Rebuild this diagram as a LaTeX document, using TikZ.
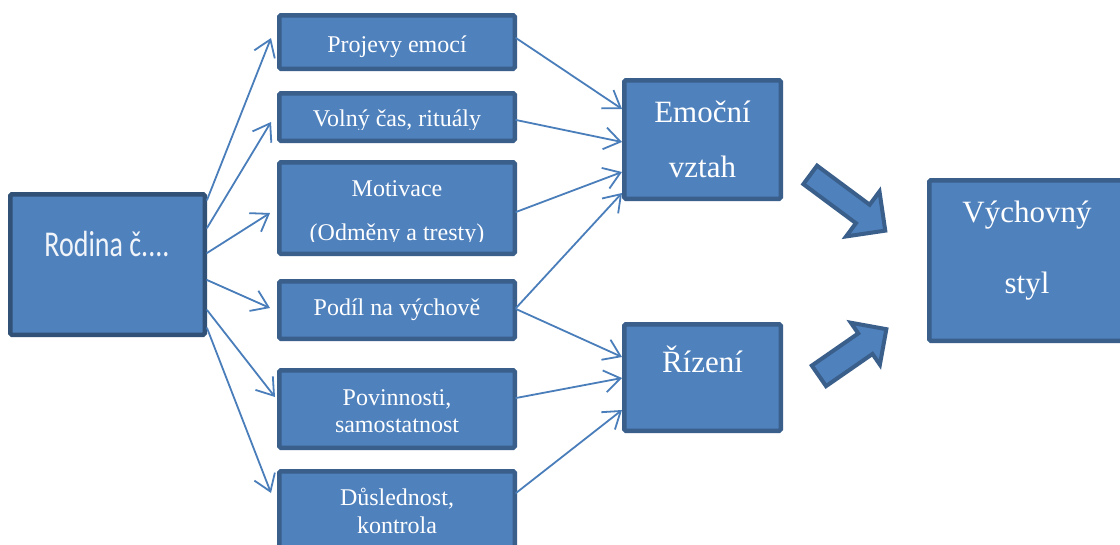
\documentclass[tikz,border=0pt]{standalone}
\usepackage{fontspec}
\usepackage{graphicx}
\setmainfont{Liberation Serif}
\newfontfamily\calfont{Carlito}
\usetikzlibrary{arrows.meta}
\definecolor{boxfill}{HTML}{4F81BD}
\definecolor{boxline}{HTML}{3A5F8B}
\definecolor{conline}{HTML}{4A7EBB}
\begin{document}
\begin{tikzpicture}[x=1pt,y=-1pt,
  box/.style={draw=boxline, fill=boxfill, line width=4.5pt, rounded corners=1.5pt, inner sep=0pt},
  txt/.style={text=white, inner sep=0pt, anchor=base, font=\fontsize{24}{28}\selectfont},
  bigtxt/.style={text=white, inner sep=0pt, anchor=base, font=\fontsize{31}{36}\selectfont},
  con/.style={draw=conline, line width=1.8pt, line cap=round, -{Straight Barb[length=16pt,width=22pt]}},
  blk/.style={draw=boxline, fill=boxfill, line width=4pt, line join=miter}]
\clip (0,0) rectangle (1120,544);
\fill[white] (0,0) rectangle (1120,544);
% boxes
\node[box, draw=boxline!85!black, minimum width=194.5pt, minimum height=140.5pt] (rodina) at (107.5,264.5) {};
\node[box, minimum width=235.5pt, minimum height=53.5pt] (p1) at (397,42) {};
\node[box, minimum width=235.5pt, minimum height=47.5pt] (p2) at (397,117) {};
\node[box, minimum width=235.5pt, minimum height=91.5pt] (p3) at (397,208) {};
\node[box, minimum width=235.5pt, minimum height=57.5pt] (p4) at (397,310) {};
\node[box, minimum width=235.5pt, minimum height=77.5pt] (p5) at (397,409) {};
\node[box, minimum width=235.5pt, minimum height=86.5pt] (p6) at (397,514.5) {};
\node[box, minimum width=156.5pt, minimum height=118.5pt] (emo) at (702.5,139.5) {};
\node[box, minimum width=156.5pt, minimum height=106.5pt] (riz) at (702.5,377.5) {};
\node[box, minimum width=195.5pt, minimum height=160.5pt] (vych) at (1027,260.5) {};
% texts
\node[text=white!92!boxfill, inner sep=0pt, anchor=base, font=\calfont\fontsize{28}{32}\selectfont] (trod) at (107,256) {\scalebox{1}[1.3]{Rodina č....}};
\node[txt] (t1) at (397,52) {Projevy emocí};
\begin{scope}
\clip (280,95) rectangle (514,129.5);
\node[txt] (t2) at (397,126) {Volný čas, rituály};
\end{scope}
\node[txt] (t3a) at (397,196) {Motivace};
\begin{scope}
\clip (280,200) rectangle (514,241.5);
\node[txt] (t3b) at (397,240) {(Odměny a tresty)};
\end{scope}
\node[txt] (t4) at (397,315) {Podíl na výchově};
\node[txt] (t5a) at (397,405) {Povinnosti,};
\node[txt] (t5b) at (397,432) {samostatnost};
\node[txt] (t6a) at (397,505) {Důslednost,};
\node[txt] (t6b) at (397,533) {kontrola};
\node[bigtxt] (te1) at (702.5,122) {Emoční};
\node[bigtxt] (te2) at (702.5,177) {vztah};
\node[bigtxt] (tr) at (702.5,372) {Řízení};
\node[bigtxt] (tv1) at (1027,222) {Výchovný};
\node[bigtxt] (tv2) at (1027,293) {styl};
% connectors left
\draw[con] ([yshift=64.5pt]rodina.east) -- ([xshift=-6pt,yshift=4pt]p1.west);
\draw[con] ([yshift=36.5pt]rodina.east) -- ([xshift=-6pt,yshift=-5pt]p2.west);
\draw[con] ([yshift=11.5pt]rodina.east) -- ([xshift=-7pt,yshift=-5pt]p3.west);
\draw[con] ([yshift=-15.5pt]rodina.east) -- ([xshift=-7pt,yshift=2pt]p4.west);
\draw[con] ([yshift=-45.5pt]rodina.east) -- ([xshift=-2pt,yshift=12pt]p5.west);
\draw[con] ([yshift=-63.5pt]rodina.east) -- ([xshift=-6pt,yshift=21.5pt]p6.west);
% connectors right
\draw[con] ([xshift=-1pt,yshift=4pt]p1.east) -- ([yshift=30.5pt]emo.west);
\draw[con] ([xshift=-1pt,yshift=-3pt]p2.east) -- ([yshift=-2.5pt]emo.west);
\draw[con] ([xshift=-1pt,yshift=-4pt]p3.east) -- ([yshift=-32.5pt]emo.west);
\draw[con] ([xshift=-1pt,yshift=2pt]p4.east) -- ([yshift=-53.5pt]emo.west);
\draw[con] ([xshift=-1pt,yshift=1pt]p4.east) -- ([yshift=20.5pt]riz.west);
\draw[con] ([xshift=-1pt,yshift=11pt]p5.east) -- ([yshift=-0.5pt]riz.west);
\draw[con] ([xshift=-1pt,yshift=21.5pt]p6.east) -- ([yshift=-32.5pt]riz.west);
% block arrows
\begin{scope}[shift={(809,174)}, rotate=-36.6]
\draw[blk] (1.5,-11.5) -- (67,-11.5) -- (67,-28) -- (95,0) -- (67,28) -- (67,11.5) -- (1.5,11.5) -- cycle;
\end{scope}
\begin{scope}[shift={(817.7,376.7)}, rotate=34.7]
\draw[blk] (1.5,-12.5) -- (58,-12.5) -- (58,-25.5) -- (83.5,0) -- (58,25.5) -- (58,12.5) -- (1.5,12.5) -- cycle;
\end{scope}
\end{tikzpicture}
\end{document}
